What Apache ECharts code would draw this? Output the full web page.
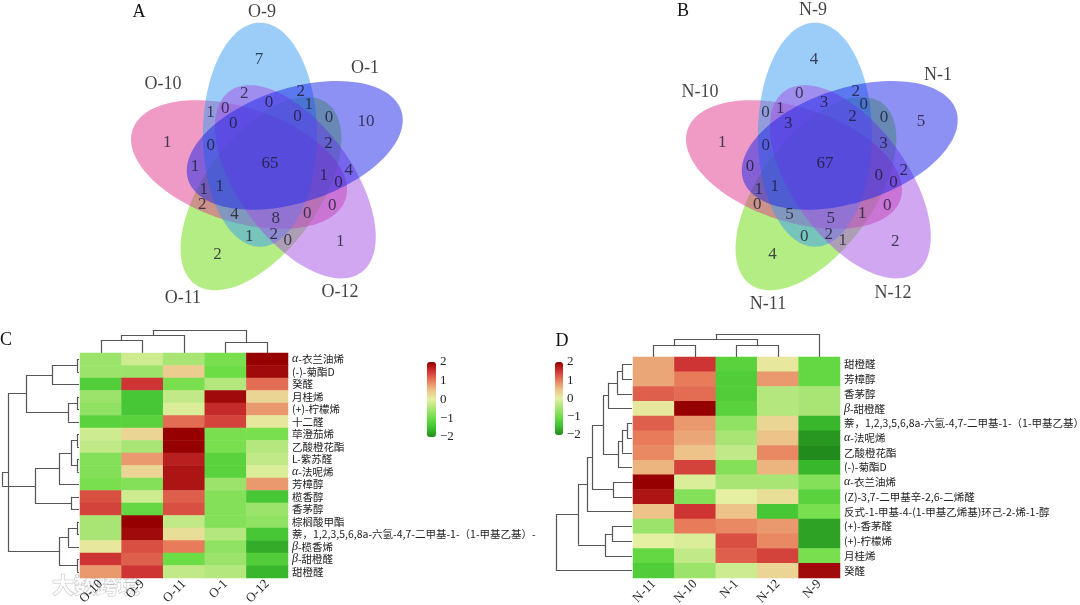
<!DOCTYPE html>
<html><head><meta charset="utf-8">
<script src="https://cdn.jsdelivr.net/npm/echarts@6/dist/echarts.min.js"></script>
<style>html,body{margin:0;padding:0;background:#fff}#c{width:1080px;height:605px}</style>
</head><body><div id="c"></div>
<script>
// ================= DATA =================
// Venn A (sets listed clockwise from top)
const setsA = ['O-9','O-1','O-12','O-11','O-10'];
const uniqueA = [7,10,1,2,1];
const ringA1 = [0,2,0,4,0];
const ringA2 = [2,0,0,1,1];
const ringA3 = [2,4,0,2,1];
const ringA4 = [0,1,0,2,1];
const ringA5 = [0,0,1,8,1];
const coreA = 65;
// Venn B
const setsB = ['N-9','N-1','N-12','N-11','N-10'];
const uniqueB = [4,5,2,4,1];
const ringB1 = [3,3,1,5,0];
const ringB2 = [0,0,0,0,0];
const ringB3 = [2,2,1,0,0];
const ringB4 = [1,0,0,2,1];
const ringB5 = [3,2,0,5,1];
const coreB = 67;

// Heatmap C
const colsC = ['O-10','O-9','O-11','O-1','O-12'];
const rowsC = ['α-衣兰油烯','(-)-菊酯D','癸醛','月桂烯','(+)-柠檬烯','十二醛','荜澄茄烯','乙酸橙花酯','L-紫苏醛','α-法呢烯','芳樟醇','榄香醇','香茅醇','棕榈酸甲酯','萘，1,2,3,5,6,8a-六氢-4,7-二甲基-1-（1-甲基乙基）-','β-榄香烯','β-甜橙醛','甜橙醛'];
const valsC = [
 [-0.6,-0.2,-0.5,-0.9, 2.0],
 [-0.6,-0.6, 0.4,-1.0, 1.9],
 [-1.3, 1.5,-0.9,-0.4, 1.1],
 [-0.6,-1.4,-0.3, 1.9, 0.3],
 [-0.7,-1.4,-0.1, 1.6, 0.8],
 [-1.2,-1.2, 1.1, 1.4, 0.1],
 [-0.2, 0.3, 2.0,-0.9,-0.9],
 [-0.3,-0.5, 2.0,-0.9,-0.4],
 [-0.8, 0.8, 1.7,-1.2,-0.3],
 [-0.8, 0.3, 1.8,-1.2,-0.1],
 [-0.9,-0.8, 1.8,-0.6, 0.8],
 [ 1.3,-0.2, 1.2,-0.8,-1.4],
 [ 1.4,-1.1, 1.3,-0.8,-0.6],
 [-0.5, 2.0,-0.3,-0.8,-0.7],
 [-0.5, 1.9, 0.2,-0.4,-1.4],
 [ 0.1, 1.3, 1.0,-0.7,-1.7],
 [ 1.5, 1.2,-1.0,-0.6,-1.3],
 [ 0.8, 1.5,-0.3,-0.4,-1.6]
];
// dendrograms: [height, left, right], leaves = index
const treeRowsC = [77,[71,[53,[27,[2,0,1],2],[11,[2,3,4],5]],[20,[11,[2,13,14],15],[2,16,17]]],[44,[20,[8,[2,6,7],[2,8,9]],10],[8,11,12]]];
const treeColsC = [23,[18,[13,0,1],2],[11,3,4]];

// Heatmap D
const colsD = ['N-11','N-10','N-1','N-12','N-9'];
const rowsD = ['甜橙醛','芳樟醇','香茅醇','β-甜橙醛','萘，1,2,3,5,6,8a-六氢-4,7-二甲基-1-（1-甲基乙基）-','α-法呢烯','乙酸橙花酯','(-)-菊酯D','α-衣兰油烯','(Z)-3,7-二甲基辛-2,6-二烯醛','反式-1-甲基-4-(1-甲基乙烯基)环己-2-烯-1-醇','(+)-香茅醛','(+)-柠檬烯','月桂烯','癸醛'];
const valsD = [
 [ 0.7, 1.5,-1.2, 0.1,-1.1],
 [ 0.7, 1.0,-1.3, 0.8,-1.1],
 [ 1.2, 1.1,-1.3,-0.4,-0.5],
 [ 0.1, 2.0,-1.2,-0.4,-0.5],
 [ 1.2, 0.8,-0.7, 0.3,-1.6],
 [ 1.0, 0.7,-0.5, 0.5,-1.9],
 [ 0.9, 0.5,-0.3, 0.9,-2.0],
 [ 0.6, 1.4,-0.8, 0.6,-1.6],
 [ 2.0,-0.1,-0.5,-0.5,-0.8],
 [ 1.8,-0.8, 0.0, 0.2,-1.2],
 [ 0.5, 1.5, 0.5,-1.4,-0.9],
 [-0.6, 1.0, 0.9, 0.8,-1.8],
 [ 0.0,-0.1, 1.3, 0.9,-1.8],
 [-1.1,-0.3, 1.2, 1.4,-0.9],
 [-1.3,-0.6,-0.2, 0.3, 1.9]
];
const treeRowsD = [76,[54,[45,[40,[29,[24,[15,[10,0,1],2],3],[14,[10,[5,4,5],6],7]],[19,8,9]],10],[27,[20,11,12],13]],14];
const treeColsD = [23,[18,[12,0,1],[12,2,3]],4];
const scaleTicks = [-2,-1,0,1,2];

// ================= LAYOUT / STYLE =================
const palette = ['#218c1b','#3ec232','#6ddd46','#a8e575','#e6f0a2','#edc38a','#e87b5a','#cf3434','#960000'];
// fills in set order (O-9, O-1, O-12, O-11, O-10)
const vennFill = ['rgba(55,155,241,0.5)','rgba(28,36,232,0.5)','rgba(165,80,230,0.5)','rgba(105,220,10,0.5)','rgba(224,55,140,0.5)'];
const drawOrder = [3,4,0,2,1];
const THETA0 = 96;
const ringLayout = [[0.59,-5],[0.714,14],[0.752,-29],[0.676,33],[0.524,36]];
const ellipseGeom = {a:1.067, b:0.543, cr:0.295, cOff:13, axOff:-6};
const labelPosA = [[-0.076,1.448],[0.905,0.914],[0.667,-1.219],[-0.829,-1.276],[-1.019,0.762]];
const labelPosB = [[-0.114,1.467],[1.076,0.848],[0.648,-1.229],[-0.543,-1.333],[-1.19,0.686]];
const serif = 'Liberation Serif';

function polar(r,deg){const t=deg*Math.PI/180;return [r*Math.cos(t), r*Math.sin(t)];}

const series = [];
function vennSeries(g, unique, rings, core, sets, labelPos){
  const ell = drawOrder.map(k=>{
    const c = polar(ellipseGeom.cr, THETA0+ellipseGeom.cOff-72*k);
    return [c[0], c[1], THETA0+ellipseGeom.axOff-72*k, k];
  });
  series.push({type:'custom', xAxisIndex:g, yAxisIndex:g, silent:true, data:ell,
    renderItem:function(params, api){
      const cx=api.value(0), cy=api.value(1), ang=api.value(2)*Math.PI/180, k=api.value(3);
      const pts=[];
      for(let i=0;i<120;i++){
        const t=2*Math.PI*i/120;
        const x=ellipseGeom.a*Math.cos(t), y=ellipseGeom.b*Math.sin(t);
        pts.push(api.coord([cx + x*Math.cos(ang) - y*Math.sin(ang), cy + x*Math.sin(ang) + y*Math.cos(ang)]));
      }
      return {type:'polygon', shape:{points:pts}, style:{fill:vennFill[k], stroke:null}};
    }});
  const pts=[];
  for(let k=0;k<5;k++){
    const u=polar(1.0, THETA0-72*k); pts.push([u[0],u[1],unique[k]]);
    rings.forEach((arr,j)=>{const p=polar(ringLayout[j][0], THETA0+ringLayout[j][1]-72*k); pts.push([p[0],p[1],arr[k]]);});
  }
  pts.push([0,0,core]);
  series.push({type:'scatter', xAxisIndex:g, yAxisIndex:g, silent:true, symbolSize:1, itemStyle:{color:'transparent'},
    data:pts, label:{show:true, position:'inside', formatter:p=>String(p.value[2]), fontFamily:serif, fontSize:17, color:'#1b1b30'}});
  series.push({type:'scatter', xAxisIndex:g, yAxisIndex:g, silent:true, symbolSize:1, itemStyle:{color:'transparent'},
    data:sets.map((s,k)=>({name:s, value:labelPos[k]})), label:{show:true, position:'inside', formatter:'{b}', fontFamily:serif, fontSize:18, color:'#111'}});
}

function dendroSegs(tree, rowsMode){
  const segs=[];
  function walk(n){
    if(typeof n==='number') return {p:n,h:0};
    const L=walk(n[1]), R=walk(n[2]), h=n[0];
    segs.push([[L.p,L.h],[L.p,h]],[[R.p,R.h],[R.p,h]],[[L.p,h],[R.p,h]]);
    return {p:(L.p+R.p)/2,h:h};
  }
  walk(tree);
  return segs.map(s=>({coords: rowsMode ? s.map(q=>[q[1],q[0]]) : s}));
}
function dendroSeries(g, tree, rowsMode){
  series.push({type:'lines', coordinateSystem:'cartesian2d', xAxisIndex:g, yAxisIndex:g, silent:true, polyline:false,
    data:dendroSegs(tree, rowsMode), lineStyle:{color:'#555', width:1.2, opacity:1}});
}
function heatSeries(g, vals){
  const d=[]; vals.forEach((row,r)=>row.forEach((v,c)=>d.push([c,r,v])));
  series.push({type:'heatmap', xAxisIndex:g, yAxisIndex:g, silent:true, data:d, itemStyle:{borderWidth:0}});
  return series.length-1;
}

const grids=[
 {left:18, top:6.5, width:504, height:315},   //0 venn A
 {left:573, top:6.5, width:504, height:315},  //1 venn B
 {left:0, top:353, width:79, height:225},     //2 C row dendro
 {left:80, top:328, width:208, height:25},    //3 C col dendro
 {left:80, top:353, width:208, height:225},   //4 C heat
 {left:427, top:362, width:9, height:75},     //5 C scale
 {left:555, top:357, width:77, height:221},   //6 D row dendro
 {left:633, top:332, width:207, height:25},   //7 D col dendro
 {left:633, top:357, width:207, height:221},  //8 D heat
 {left:555, top:362, width:8, height:73}      //9 D scale
].map(g=>Object.assign({outerBoundsMode:'none', containLabel:false, show:false}, g));

const hid = {show:false};
const xAxes=[], yAxes=[];
function valAx(g,min,max,inv){return {type:'value', gridIndex:g, min:min, max:max, inverse:!!inv, show:false, splitLine:hid};}
xAxes.push(valAx(0,-2.4,2.4)); yAxes.push(valAx(0,-1.5,1.5));
xAxes.push(valAx(1,-2.4,2.4)); yAxes.push(valAx(1,-1.5,1.5));
xAxes.push(valAx(2,0,79,true)); yAxes.push(valAx(2,-0.5,rowsC.length-0.5,true));
xAxes.push(valAx(3,-0.5,colsC.length-0.5)); yAxes.push(valAx(3,0,25));
const rowLabel = {fontSize:10.5, fontFamily:'Noto Sans CJK SC', color:'#222', margin:4, interval:0,
  formatter:v=>v.replace(/^([αβ])/,'{g|$1}'), rich:{g:{fontStyle:'italic', fontFamily:serif, fontSize:12, color:'#222'}}};
const colLabel = {rotate:45, fontFamily:serif, fontSize:13, color:'#222', margin:4, interval:0};
function catX(g,data){return {type:'category', gridIndex:g, data:data, axisLine:hid, axisTick:hid, splitLine:hid, axisLabel:colLabel};}
function catY(g,data){return {type:'category', gridIndex:g, data:data, inverse:true, position:'right', axisLine:hid, axisTick:hid, splitLine:hid, axisLabel:rowLabel};}
xAxes.push(catX(4,colsC)); yAxes.push(catY(4,rowsC));
const scaleLabel = {fontFamily:serif, fontSize:13, color:'#222', margin:4, formatter:v=>v<0?'\u2212'+(-v):String(v)};
function scaleY(g){return {type:'value', gridIndex:g, min:scaleTicks[0], max:scaleTicks[scaleTicks.length-1], interval:1, position:'right', axisLine:hid, axisTick:hid, splitLine:hid, axisLabel:scaleLabel};}
xAxes.push(valAx(5,0,1)); yAxes.push(scaleY(5));
xAxes.push(valAx(6,0,77,true)); yAxes.push(valAx(6,-0.5,rowsD.length-0.5,true));
xAxes.push(valAx(7,-0.5,colsD.length-0.5)); yAxes.push(valAx(7,0,25));
xAxes.push(catX(8,colsD)); yAxes.push(catY(8,rowsD));
xAxes.push(valAx(9,0,1)); yAxes.push(scaleY(9));

vennSeries(0, uniqueA, [ringA1,ringA2,ringA3,ringA4,ringA5], coreA, setsA, labelPosA);
vennSeries(1, uniqueB, [ringB1,ringB2,ringB3,ringB4,ringB5], coreB, setsB, labelPosB);
dendroSeries(2, treeRowsC, true);
dendroSeries(3, treeColsC, false);
const hC = heatSeries(4, valsC);
series.push({type:'scatter', xAxisIndex:5, yAxisIndex:5, data:[]});
dendroSeries(6, treeRowsD, true);
dendroSeries(7, treeColsD, false);
const hD = heatSeries(8, valsD);
series.push({type:'scatter', xAxisIndex:9, yAxisIndex:9, data:[]});

function vm(idx,left,top,w,h){return {type:'continuous', seriesIndex:idx, min:-2, max:2, calculable:false, hoverLink:false, orient:'vertical',
  left:left, top:top, itemWidth:w, itemHeight:h, padding:0, inRange:{color:palette}};}

const letters = [['A',139,12],['B',683,11],['C',6,340],['D',562,341]];
const chart = echarts.init(document.getElementById('c'), null, {renderer:'canvas'});
chart.setOption({
  animation:false, backgroundColor:'#fff',
  grid:grids, xAxis:xAxes, yAxis:yAxes, series:series,
  visualMap:[vm(hC,427,362,9,75), vm(hD,555,362,8,73)],
  graphic:letters.map(l=>({type:'text', x:l[1], y:l[2], style:{text:l[0], font:'18px "Liberation Serif"', fill:'#111', textAlign:'center', textVerticalAlign:'middle', align:'center', verticalAlign:'middle'}}))
    .concat([{type:'text', x:52, y:585, style:{text:'大数跨境', font:'bold 22px "Noto Sans CJK SC"', fill:'rgba(255,255,255,0.8)', stroke:'rgba(120,120,120,0.45)', lineWidth:1, verticalAlign:'middle', textVerticalAlign:'middle'}}])
});
</script></body></html>
